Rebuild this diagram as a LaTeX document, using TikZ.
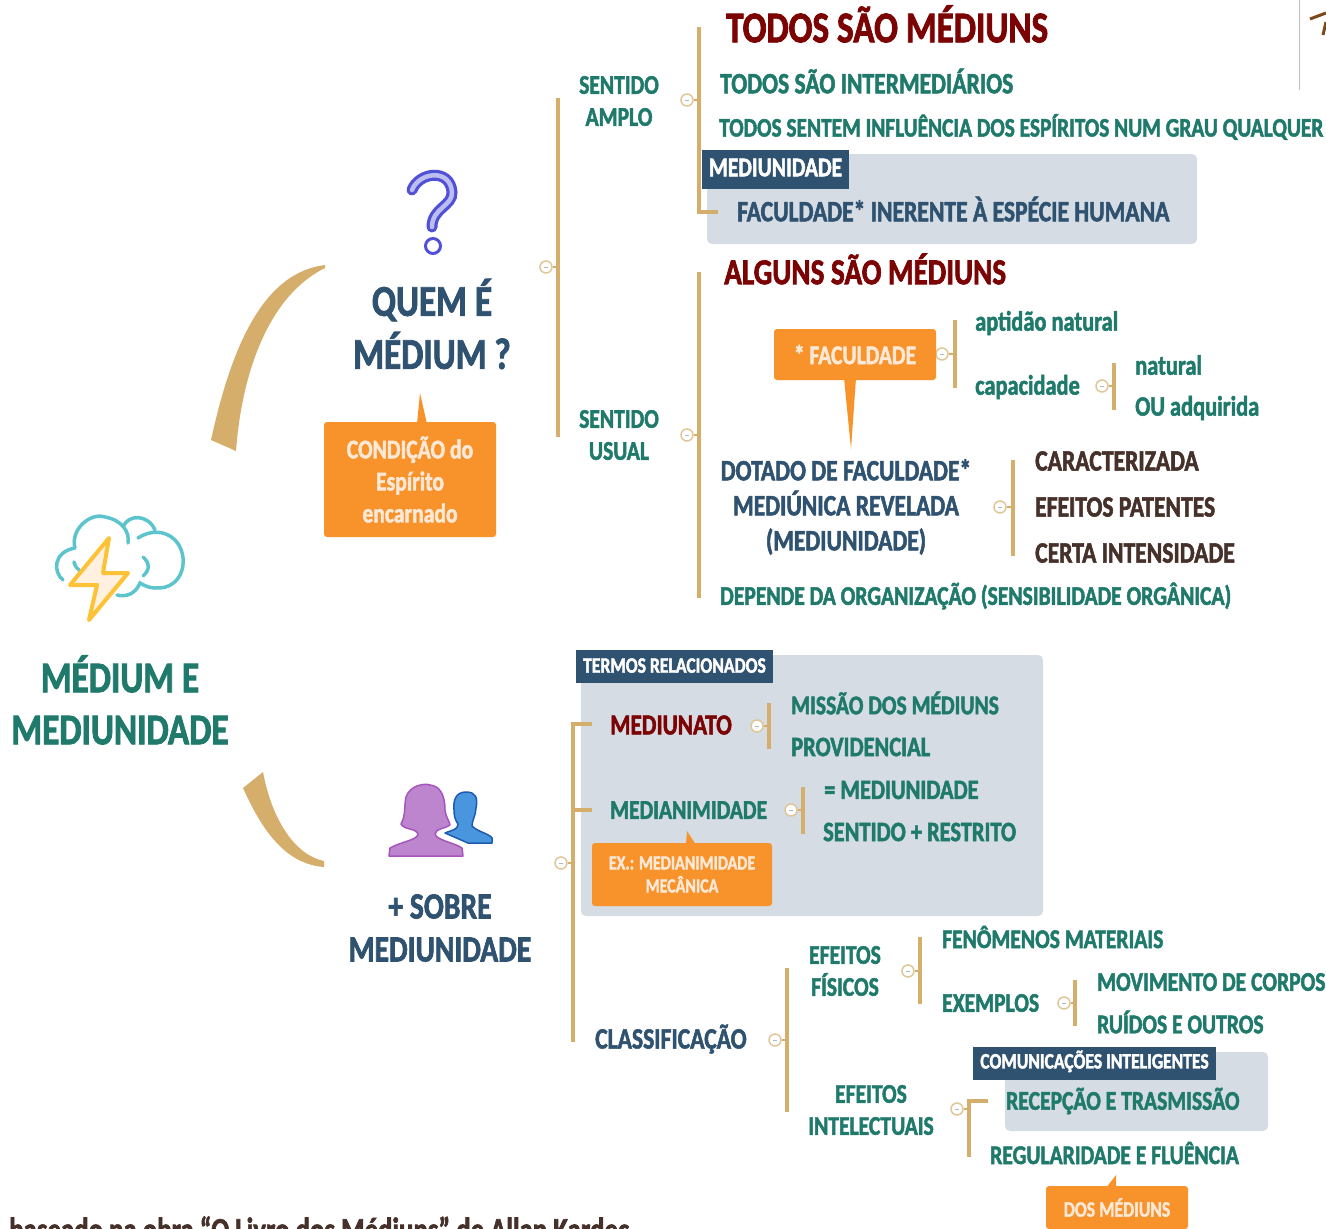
\documentclass[tikz,border=0pt]{standalone}
\usepackage{fontspec}
\setmainfont{Carlito}[BoldFont={Carlito Bold}, BoldFeatures={FakeStretch=0.8, FakeBold=1.8}]
\definecolor{mapteal}{HTML}{1F7A6C}
\definecolor{mapnavy}{HTML}{2F5270}
\definecolor{mapmaroon}{HTML}{7B0303}
\definecolor{mapbrown}{HTML}{46302A}
\definecolor{maporange}{HTML}{F8922A}
\definecolor{maptan}{HTML}{D4AE6A}
\definecolor{mappanel}{HTML}{D5DCE3}
\definecolor{mapcream}{HTML}{FDE8D5}
\definecolor{mapcloud}{HTML}{5CC4CC}
\definecolor{mapbolt}{HTML}{FDC235}
\definecolor{mapask}{HTML}{5050D8}
\definecolor{mapaskin}{HTML}{BCBEF0}
\definecolor{mapwoman}{HTML}{BE85CF}
\definecolor{mapwomanl}{HTML}{A655BC}
\definecolor{mapman}{HTML}{4A96DE}
\definecolor{mapmanl}{HTML}{1C5CB0}
\tikzstyle{txt} = [inner sep=0pt, anchor=west, font=\bfseries\fontsize{27}{32}\selectfont]
\tikzstyle{teal} = [txt, text=mapteal]
\tikzstyle{tealb} = [teal, font=\bfseries\fontsize{28}{32}\selectfont]
\tikzstyle{navy} = [txt, text=mapnavy, font=\bfseries\fontsize{29.5}{35}\selectfont]
\tikzstyle{brownt} = [txt, text=mapbrown, font=\bfseries\fontsize{29.5}{35}\selectfont]
\tikzstyle{maroon} = [txt, text=mapmaroon, font=\bfseries\fontsize{29}{35}\selectfont]
\tikzstyle{block} = [anchor=center, align=center]
\tikzstyle{panel} = [fill=mappanel, rounded corners=5pt]
\tikzstyle{tagbox} = [fill=mapnavy, text=white, inner sep=0pt, font=\bfseries\fontsize{22}{26}\selectfont]
\tikzstyle{callout} = [fill=maporange, text=mapcream, rounded corners=3pt, inner sep=0pt, align=center, font=\bfseries\fontsize{27}{32}\selectfont]
\tikzstyle{trunk} = [draw=maptan, line width=4.5pt]
\tikzstyle{stub} = [draw=maptan, line width=2.5pt]
\tikzstyle{swoosh} = [fill=maptan, draw=none]
\tikzstyle{marker} = [circle, draw=maptan!70, fill=white, line width=1.5pt, minimum size=12pt, inner sep=0pt,
	path picture={\draw[mapnavy!40, line width=.8pt] ([xshift=-2pt]path picture bounding box.center) -- ([xshift=2pt]path picture bounding box.center);}]
\begin{document}
\begin{tikzpicture}[x=1pt, y=-1pt]
	\path[use as bounding box, clip] (0,0) rectangle (1326,1229);
	% panels
	\node[panel, minimum width=490pt, minimum height=90pt] (panelMed) at (952,199) {};
	\node[panel, minimum width=462pt, minimum height=261pt] (panelTermos) at (812,785.5) {};
	\node[panel, minimum width=263pt, minimum height=79pt] (panelCom) at (1136.5,1091.5) {};
	% swooshes
	\path[swoosh] (325,265) .. controls (270,272) and (235,330) .. (211,440) -- (236,451) .. controls (242,370) and (270,295) .. (325,268) -- cycle;
	\path[swoosh] (243,788) .. controls (262,830) and (285,864) .. (324,867) -- (324,861) .. controls (295,855) and (272,820) .. (263,772) -- cycle;
	% cloud and bolt
	\draw[draw=mapcloud, line width=3.5pt, line cap=round, line join=round] (63,580) .. controls (53,572) and (53,552) .. (75,548)
		.. controls (70,530) and (90,512) .. (105,517) .. controls (122,520) and (130,532) .. (128,543);
	\draw[draw=mapcloud, line width=3.5pt, line cap=round] (123,527) .. controls (128,514) and (148,514) .. (155,530);
	\draw[draw=mapcloud, line width=3.5pt, line cap=round] (138,538) .. controls (150,530) and (165,530) .. (175,540)
		.. controls (190,555) and (185,590) .. (155,588) .. controls (150,588) and (145,586) .. (140,583) .. controls (135,595) and (125,597) .. (117,595);
	\draw[draw=mapcloud, line width=3.5pt, line cap=round] (74,562) .. controls (75,566) and (77,569) .. (80,571);
	\draw[draw=mapcloud, line width=3.5pt, line cap=round] (143,557) .. controls (150,563) and (150,570) .. (143,576);
	\draw[draw=mapbolt, fill=orange!12, line width=4pt, line join=round] (109,538) -- (70,585) -- (97,585) -- (89,620) -- (128,573) -- (103,573) -- cycle;
	% question mark
	\draw[draw=mapask, line width=11pt, line cap=round] (412,190) .. controls (419,172) and (450,168) .. (452,192) .. controls (453,206) and (432,208) .. (432,227);
	\draw[draw=mapaskin, line width=4.5pt, line cap=round] (412,190) .. controls (419,172) and (450,168) .. (452,192) .. controls (453,206) and (432,208) .. (432,227);
	\draw[draw=mapask, fill=white, line width=3pt] (433,246) circle (7.5pt);
	% people
	\draw[draw=mapwomanl, fill=mapwoman, line width=1.5pt, line join=round] (389,856) -- (390,848) .. controls (400,842) and (418,840) .. (418,834) .. controls (416,828) and (404,830) .. (401,824)
		.. controls (406,815) and (404,806) .. (406,797) .. controls (410,785) and (425,783) .. (430,785) .. controls (440,786) and (445,795) .. (445,810) .. controls (446,818) and (450,822) .. (450,825)
		.. controls (445,829) and (436,828) .. (435,834) .. controls (436,840) and (455,843) .. (462,848) -- (463,856) -- cycle;
	\draw[draw=mapmanl, fill=mapman, line width=1.5pt, line join=round] (445,833) .. controls (452,830) and (458,830) .. (458,824) .. controls (455,820) and (454,815) .. (454,810) .. controls (453,800) and (456,792) .. (466,792)
		.. controls (476,792) and (478,798) .. (476,808) .. controls (476,815) and (472,820) .. (472,826) .. controls (478,832) and (490,834) .. (492,838) -- (492,843) -- (468,843) -- cycle;
	% titles
	\node[teal, block, font=\bfseries\fontsize{44}{52}\selectfont] (titulo) at (120,700) {MÉDIUM E\\MEDIUNIDADE};
	\node[navy, block, font=\bfseries\fontsize{44}{53}\selectfont] (quem) at (432,324) {QUEM É\\MÉDIUM ?};
	\node[navy, block, font=\bfseries\fontsize{37}{43}\selectfont] (sobre) at (440,928) {+ SOBRE\\MEDIUNIDADE};
	% brackets, upper half
	\node[marker] (mQuem) at (546,267) {};
	\coordinate (tQuem) at (558,98); \coordinate (bQuem) at (558,437);
	\draw[trunk] (tQuem) -- (bQuem); \draw[stub] (mQuem) -- (mQuem -| tQuem);
	\node[marker] (mAmplo) at (687,100) {};
	\coordinate (tAmplo) at (699,27); \coordinate (bAmplo) at (699,212); \coordinate (eAmplo) at (718,212);
	\draw[trunk] (tAmplo) -- (bAmplo) -- (eAmplo); \draw[stub] (mAmplo) -- (mAmplo -| tAmplo);
	\node[marker] (mUsual) at (687,435) {};
	\coordinate (tUsual) at (699,272); \coordinate (bUsual) at (699,598);
	\draw[trunk] (tUsual) -- (bUsual); \draw[stub] (mUsual) -- (mUsual -| tUsual);
	\node[marker] (mFac) at (942,354) {};
	\coordinate (tFac) at (955,320); \coordinate (bFac) at (955,388);
	\draw[trunk] (tFac) -- (bFac); \draw[stub] (mFac) -- (mFac -| tFac);
	\node[marker] (mCap) at (1102,386) {};
	\coordinate (tCap) at (1114,363); \coordinate (bCap) at (1114,410);
	\draw[trunk] (tCap) -- (bCap); \draw[stub] (mCap) -- (mCap -| tCap);
	\node[marker] (mDot) at (1000,507) {};
	\coordinate (tDot) at (1013,460); \coordinate (bDot) at (1013,556);
	\draw[trunk] (tDot) -- (bDot); \draw[stub] (mDot) -- (mDot -| tDot);
	% brackets, lower half
	\node[marker] (mSobre) at (561,863) {};
	\coordinate (sSobre) at (592,724); \coordinate (tSobre) at (573,724); \coordinate (bSobre) at (573,1042); \coordinate (cSobre) at (573,810); \coordinate (dSobre) at (592,810);
	\draw[trunk] (sSobre) -- (tSobre) -- (bSobre); \draw[trunk] (cSobre) -- (dSobre); \draw[stub] (mSobre) -- (mSobre -| tSobre);
	\node[marker] (mNato) at (757,726) {};
	\coordinate (tNato) at (769,703); \coordinate (bNato) at (769,749);
	\draw[trunk] (tNato) -- (bNato); \draw[stub] (mNato) -- (mNato -| tNato);
	\node[marker] (mNim) at (791,810) {};
	\coordinate (tNim) at (803,787); \coordinate (bNim) at (803,834);
	\draw[trunk] (tNim) -- (bNim); \draw[stub] (mNim) -- (mNim -| tNim);
	\node[marker] (mClas) at (775,1040) {};
	\coordinate (tClas) at (787,968); \coordinate (bClas) at (787,1112);
	\draw[trunk] (tClas) -- (bClas); \draw[stub] (mClas) -- (mClas -| tClas);
	\node[marker] (mFis) at (908,971) {};
	\coordinate (tFis) at (920,937); \coordinate (bFis) at (920,1004);
	\draw[trunk] (tFis) -- (bFis); \draw[stub] (mFis) -- (mFis -| tFis);
	\node[marker] (mExe) at (1064,1003) {};
	\coordinate (tExe) at (1075,980); \coordinate (bExe) at (1075,1026);
	\draw[trunk] (tExe) -- (bExe); \draw[stub] (mExe) -- (mExe -| tExe);
	\node[marker] (mInt) at (957,1109) {};
	\coordinate (sInt) at (988,1101); \coordinate (tInt) at (969,1101); \coordinate (bInt) at (969,1157);
	\draw[trunk] (sInt) -- (tInt) -- (bInt); \draw[stub] (mInt) -- (mInt -| tInt);
	% tags
	\node[tagbox, minimum width=147pt, minimum height=39pt, text depth=4pt, font=\bfseries\fontsize{27}{30}\selectfont] (tagMed) at (775.5,169.5) {MEDIUNIDADE};
	\node[tagbox, minimum width=197pt, minimum height=33pt, text depth=2pt] (tagTermos) at (674.5,666.5) {TERMOS RELACIONADOS};
	\node[tagbox, minimum width=243pt, minimum height=33pt, text depth=8pt] (tagCom) at (1094.5,1063.5) {COMUNICAÇÕES INTELIGENTES};
	% callouts
	\fill[maporange] (417,424) -- (420,393) -- (427,424) -- cycle;
	\node[callout, minimum width=172pt, minimum height=115pt] (condicao) at (410,479.5) {CONDIÇÃO do\\Espírito\\encarnado};
	\fill[maporange] (844,378) -- (851,449) -- (856,378) -- cycle;
	\node[callout, minimum width=162pt, minimum height=51pt] (faculdade) at (855,354.5) {* FACULDADE};
	\fill[maporange] (686,845) -- (687,831) -- (696,845) -- cycle;
	\node[callout, minimum width=180pt, minimum height=63pt, font=\bfseries\fontsize{20}{23}\selectfont] (exemplo) at (682,874.5) {EX.: MEDIANIMIDADE\\MECÂNICA};
	\fill[maporange] (1106,1188) -- (1116,1175) -- (1116,1188) -- cycle;
	\node[callout, minimum width=142pt, minimum height=43pt, font=\bfseries\fontsize{22}{26}\selectfont] (dos) at (1117,1207.5) {DOS MÉDIUNS};
	% upper texts
	\node[teal, block] (amplo) at (619,101) {SENTIDO\\AMPLO};
	\node[maroon, font=\bfseries\fontsize{44}{50}\selectfont] (todos) at (726,24) {TODOS SÃO MÉDIUNS};
	\node[navy, text=mapteal] (inter) at (720,81) {TODOS SÃO INTERMEDIÁRIOS};
	\node[teal, font=\bfseries\fontsize{26.7}{32}\selectfont] (sentem) at (719,127) {TODOS SENTEM INFLUÊNCIA DOS ESPÍRITOS NUM GRAU QUALQUER};
	\node[navy] (inerente) at (737,209) {FACULDADE* INERENTE À ESPÉCIE HUMANA};
	\node[teal, block] (usual) at (619,435) {SENTIDO\\USUAL};
	\node[maroon, font=\bfseries\fontsize{36.5}{40}\selectfont] (alguns) at (724,269) {ALGUNS SÃO MÉDIUNS};
	\node[tealb] (aptidao) at (975,323) {aptidão natural};
	\node[tealb] (capacidade) at (975,387) {capacidade};
	\node[tealb] (natural) at (1135,365) {natural};
	\node[tealb] (adquirida) at (1135,408) {OU adquirida};
	\node[navy, block] (dotado) at (846,507) {DOTADO DE FACULDADE*\\MEDIÚNICA REVELADA\\(MEDIUNIDADE)};
	\node[brownt] (caract) at (1035,461) {CARACTERIZADA};
	\node[brownt] (patentes) at (1035,507) {EFEITOS PATENTES};
	\node[brownt] (certa) at (1035,553) {CERTA INTENSIDADE};
	\node[teal] (depende) at (720,596) {DEPENDE DA ORGANIZAÇÃO (SENSIBILIDADE ORGÂNICA)};
	% lower texts
	\node[maroon] (nato) at (610,725) {MEDIUNATO};
	\node[teal] (missao) at (791,703) {MISSÃO DOS MÉDIUNS};
	\node[tealb] (provid) at (791,747) {PROVIDENCIAL};
	\node[teal] (nimidade) at (610,810) {MEDIANIMIDADE};
	\node[tealb] (igual) at (824,790) {= MEDIUNIDADE};
	\node[tealb] (restrito) at (823,832) {SENTIDO + RESTRITO};
	\node[navy] (classif) at (595,1039) {CLASSIFICAÇÃO};
	\node[teal, block] (fisicos) at (845,971) {EFEITOS\\FÍSICOS};
	\node[teal] (fenomenos) at (942,937) {FENÔMENOS MATERIAIS};
	\node[teal] (exemplos) at (942,1003) {EXEMPLOS};
	\node[teal] (movimento) at (1097,982) {MOVIMENTO DE CORPOS};
	\node[teal] (ruidos) at (1097,1022) {RUÍDOS E OUTROS};
	\node[teal, block] (intelect) at (871,1110) {EFEITOS\\INTELECTUAIS};
	\node[teal] (recepcao) at (1006,1101) {RECEPÇÃO E TRASMISSÃO};
	\node[teal] (regular) at (990,1153) {REGULARIDADE E FLUÊNCIA};
	\node[brownt, anchor=base west, font=\bfseries\fontsize{33.5}{35}\selectfont] (obra) at (9,1241) {baseado na obra “O Livro dos Médiuns” de Allan Kardec};
	% corner of the cut-off figure
	\draw[draw=gray!50, line width=1pt] (1299,0) -- (1299,90);
	\draw[draw=mapbrown!70!orange, line width=3pt] (1310,19) -- (1326,13) (1323,35) -- (1326,22);
\end{tikzpicture}
\end{document}
